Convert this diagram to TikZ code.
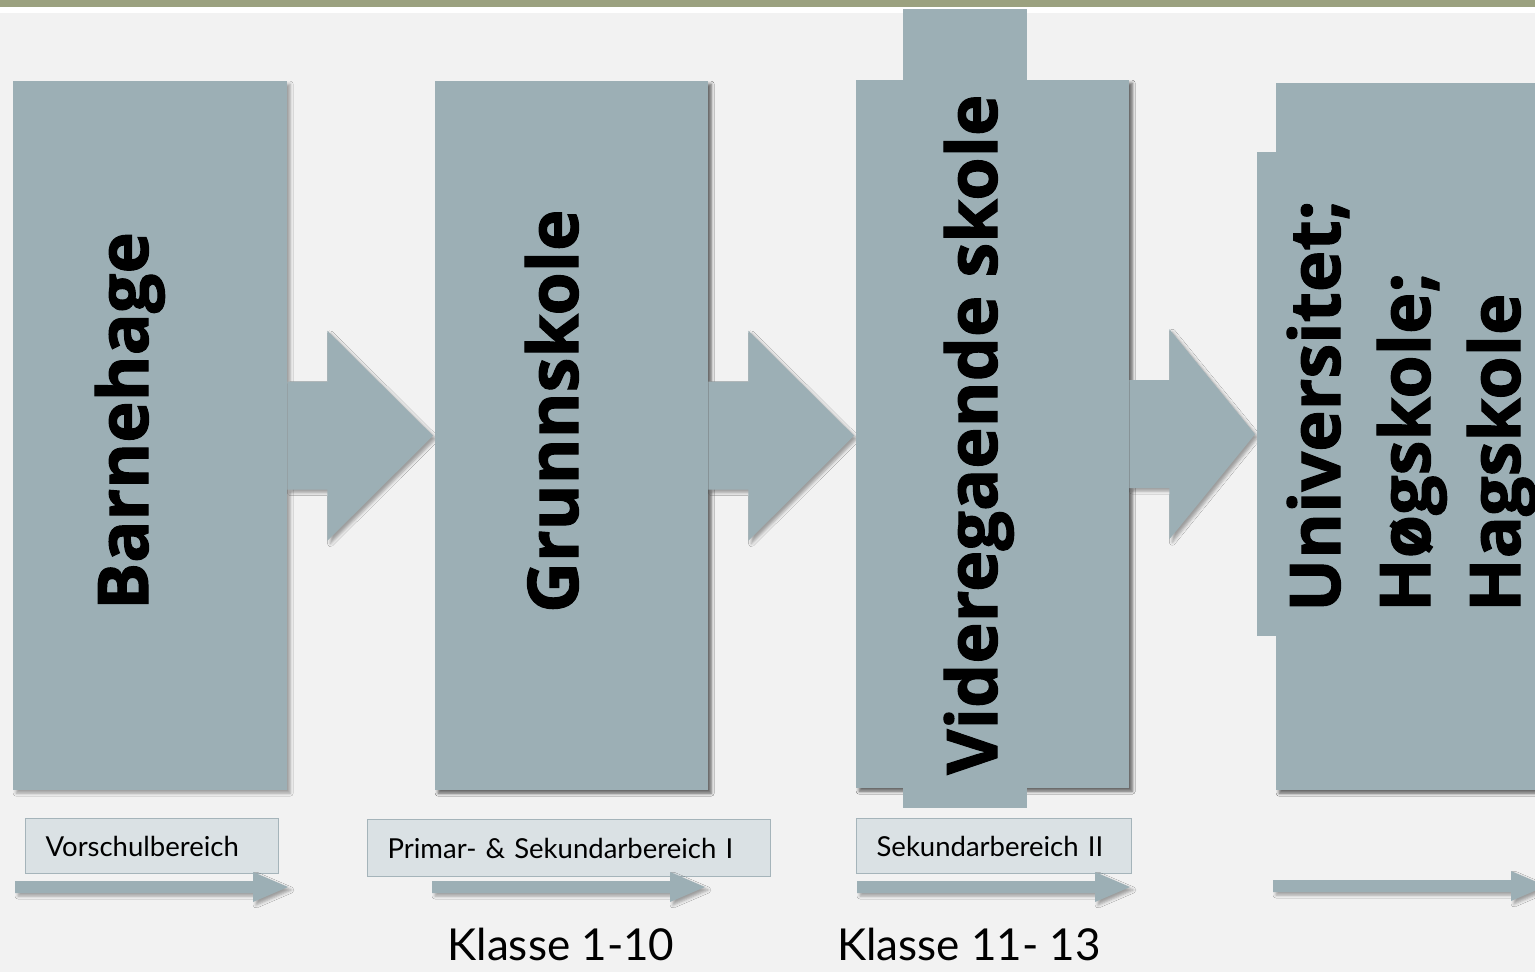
\documentclass[tikz,border=0pt]{standalone}
\usepackage{fontspec}
\setmainfont{Lato}
\newfontfamily\titlefont{Open Sans}[BoldFeatures={FakeBold=1.5}]
\usetikzlibrary{calc,shadows.blur}
\definecolor{boxfill}{RGB}{156,175,181}
\definecolor{bgfill}{RGB}{242,242,242}
\definecolor{olivebar}{RGB}{155,161,127}
\definecolor{labfill}{RGB}{218,225,228}
\definecolor{labdraw}{RGB}{165,180,186}
\tikzset{
  shad/.style={blur shadow={shadow xshift=3pt, shadow yshift=-3pt, shadow blur radius=3pt, shadow opacity=35}},
  bigbox/.style={rectangle, fill=boxfill, inner sep=0pt, anchor=north west, shad},
  tabbox/.style={rectangle, fill=boxfill, inner sep=0pt, anchor=north west},
  vtext/.style={rotate=90, anchor=base west, inner sep=0pt, align=left,
    font=\titlefont\bfseries\fontsize{70}{90}\selectfont},
  lab/.style={rectangle, draw=labdraw, line width=1.2pt, fill=labfill, anchor=north west,
    inner xsep=20pt, inner ysep=0pt, align=left, font=\fontsize{27.5}{30}\selectfont},
  klasse/.style={anchor=base, inner sep=0pt, font=\fontsize{44}{52}\selectfont},
  arrowshape/.style={fill=boxfill, shad},
}
\newcommand\bigarrow[2]{%
  \path[arrowshape] ($(#1.east)+(0,-54)$) -- ($(#1.east)+(40,-54)$) -- ($(#1.east)+(40,-105)$)
    -- ($(#2.west |- #1.east)+(-2,0)$)
    -- ($(#1.east)+(40,105)$) -- ($(#1.east)+(40,54)$) -- ($(#1.east)+(0,54)$) -- cycle;}
\newcommand\flowbar[2]{%
  \path[arrowshape] ($(#1)+(0,-6)$) -- ($(#2)+(-35,-6)$) -- ($(#2)+(-35,-15)$) -- (#2)
    -- ($(#2)+(-35,15)$) -- ($(#2)+(-35,6)$) -- ($(#1)+(0,6)$) -- cycle;}
\begin{document}
\begin{tikzpicture}[x=1pt,y=-1pt]
\useasboundingbox (0,0) rectangle (1535,972);
\clip (0,0) rectangle (1535,972);
\fill[olivebar] (0,0) rectangle (1535,7);
\fill[white] (0,7) rectangle (1535,13);
\fill[bgfill] (0,13) rectangle (1535,972);

% big boxes and arrows
\node[bigbox, minimum width=274pt, minimum height=709pt] (b1) at (13,81) {};
\node[bigbox, minimum width=273pt, minimum height=709pt] (b2) at (435,81) {};
\node[bigbox, minimum width=273pt, minimum height=708pt] (b3) at (856,80) {};
\node[bigbox, minimum width=275pt, minimum height=707pt] (b4) at (1276,83) {};
\node[tabbox, minimum width=19pt, minimum height=484pt] (tab4) at (1257,152) {};
\bigarrow{b1}{b2}
\node[bigbox, minimum width=273pt, minimum height=709pt] at (435,81) {};
\bigarrow{b2}{b3}
\node[bigbox, minimum width=273pt, minimum height=708pt] at (856,80) {};
\node[tabbox, minimum width=124pt, minimum height=799pt] (tab3) at (903,9) {};
\bigarrow{b3}{tab4}
\node[bigbox, minimum width=275pt, minimum height=707pt] at (1276,83) {};
\node[tabbox, minimum width=19pt, minimum height=484pt] at (1257,152) {};

% vertical titles
\node[vtext] (t1) at (148,610) {Barnehage};
\node[vtext] (t2) at (578,613) {Grunnskole};
\node[vtext] (t3) at (997,775) {Videregaende skole};
\node[vtext] (t4) at (1520,612) {Universitet;\\Høgskole;\\Hagskole};

% labels
\node[lab, minimum width=253pt, minimum height=55pt, text width=213pt] (l1) at (25,818) {Vorschulbereich};
\node[lab, minimum width=403pt, minimum height=57pt, text width=363pt] (l2) at (367,819) {Primar- \& Sekundarbereich I};
\node[lab, minimum width=275pt, minimum height=55pt, text width=235pt] (l3) at (856,818) {Sekundarbereich II};

% flow bars
\coordinate (f1s) at (15,887);   \coordinate (f1e) at (288,887);
\coordinate (f2s) at (432,887);  \coordinate (f2e) at (705,887);
\coordinate (f3s) at (857,887);  \coordinate (f3e) at (1130,887);
\coordinate (f4s) at (1273,886); \coordinate (f4e) at (1546,886);
\flowbar{f1s}{f1e}
\flowbar{f2s}{f2e}
\flowbar{f3s}{f3e}
\flowbar{f4s}{f4e}

% class ranges
\node[klasse] (k1) at (561,960) {Klasse 1-10};
\node[klasse] (k2) at (969,960) {Klasse 11- 13};
\end{tikzpicture}
\end{document}
